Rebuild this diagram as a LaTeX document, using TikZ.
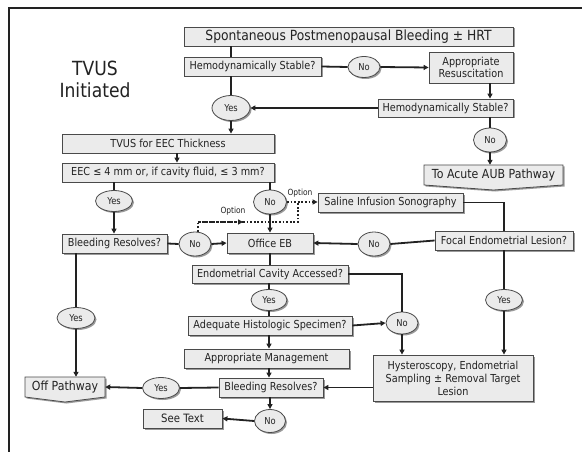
\documentclass[tikz,border=0pt]{standalone}
\usepackage{fontspec}
\setmainfont{DejaVu Sans}[FakeStretch=0.88]
\usetikzlibrary{shapes.geometric,arrows.meta,shadows}
\definecolor{boxfill}{HTML}{EBEBEB}
\definecolor{boxline}{HTML}{4A4A4A}
\definecolor{linecol}{HTML}{222222}
\definecolor{shadowcol}{HTML}{9A9A9A}
\begin{document}
\begin{tikzpicture}[x=1pt,y=-1pt,
  shad/.style={drop shadow={shadow xshift=1.5pt,shadow yshift=-1.5pt,fill=shadowcol,opacity=1}},
  box/.style={draw=boxline,fill=boxfill,line width=0.8pt,rectangle,inner sep=0pt,align=center,
    text=linecol,font=\fontsize{11}{13}\selectfont,shad},
  oval/.style={draw=boxline,fill=boxfill,line width=0.8pt,ellipse,inner sep=0pt,
    text=linecol,font=\fontsize{9.5}{10}\selectfont,shad},
  pagebox/.style={draw=boxline,fill=boxfill,line width=0.8pt,shad},
  conn/.style={draw=linecol,line width=1.8pt},
  arr/.style={conn,-{Triangle[length=5pt,width=5pt]}},
  dots/.style={draw=linecol,line width=1.8pt,dash pattern=on 1.8pt off 1.8pt},
  darr/.style={dots,-{Triangle[length=5pt,width=5pt]}},
  lbl/.style={text=linecol,font=\fontsize{8.5}{10}\selectfont,inner sep=0pt}
]
\useasboundingbox (0,0) rectangle (582,452);
\fill[white] (0,0) rectangle (582,452);
\draw[linecol,line width=1.2pt] (9,452) -- (9,8) -- (582,8);

\node[text=linecol,font=\fontsize{19.5}{22}\selectfont,align=center] (title) at (95,79) {TVUS\\Initiated};

% boxes
\node[box,minimum width=329pt,minimum height=19pt,font=\fontsize{14}{15}\selectfont] (top) at (348.5,36.5) {Spontaneous Postmenopausal Bleeding ± HRT};
\node[box,minimum width=137pt,minimum height=19pt] (hs1) at (252.5,66.5) {Hemodynamically Stable?};
\node[oval,minimum width=32pt,minimum height=21pt] (no1) at (364,67) {No};
\node[box,minimum width=84pt,minimum height=31pt,font=\fontsize{11}{12}\selectfont] (resus) at (471,67.5) {Appropriate\\Resuscitation};
\node[box,minimum width=135pt,minimum height=18pt] (hs2) at (445.5,108) {Hemodynamically Stable?};
\node[oval,minimum width=33pt,minimum height=24pt] (no2) at (490,140) {No};
\path[pagebox] (424,165) -- (563,165) -- (563,185) -- (493.5,190) -- (424,185) -- cycle;
\node[text=linecol,font=\fontsize{12.5}{14}\selectfont,minimum width=139pt,minimum height=20pt,inner sep=0pt] (aub) at (493.5,175) {To Acute AUB Pathway};
\node[oval,minimum width=38pt,minimum height=25pt] (yes1) at (231,108) {Yes};
\node[box,minimum width=212pt,minimum height=19pt] (tvus) at (168,143.5) {TVUS for EEC Thickness};
\node[box,minimum width=212pt,minimum height=19pt] (eec) at (168,172.5) {EEC ≤ 4 mm or, if cavity fluid, ≤ 3 mm?};
\node[oval,minimum width=37pt,minimum height=21pt] (yes2) at (114,201) {Yes};
\node[oval,minimum width=33pt,minimum height=24pt] (no3) at (270,202) {No};
\node[box,minimum width=105pt,minimum height=19pt] (br1) at (114.5,243.5) {Bleeding Resolves?};
\node[oval,minimum width=32pt,minimum height=24pt] (no4) at (195,244) {No};
\node[box,minimum width=86pt,minimum height=20pt] (oeb) at (270,243) {Office EB};
\node[box,minimum width=145pt,minimum height=19pt] (sis) at (390.5,202.5) {Saline Infusion Sonography};
\node[box,minimum width=138pt,minimum height=19pt] (focal) at (504,240.5) {Focal Endometrial Lesion?};
\node[oval,minimum width=32pt,minimum height=24pt] (no5) at (374,244) {No};
\node[box,minimum width=156pt,minimum height=18pt] (eca) at (270,274) {Endometrial Cavity Accessed?};
\node[oval,minimum width=32pt,minimum height=22pt] (no6) at (402,323) {No};
\node[oval,minimum width=36pt,minimum height=21pt] (yes3) at (269,300) {Yes};
\node[box,minimum width=164pt,minimum height=19pt] (ahs) at (270,325.5) {Adequate Histologic Specimen?};
\node[box,minimum width=165pt,minimum height=19pt] (am) at (266.5,358.5) {Appropriate Management};
\node[box,minimum width=104pt,minimum height=19pt] (br2) at (271,387.5) {Bleeding Resolves?};
\node[box,minimum width=160pt,minimum height=46pt] (hyst) at (453,378) {Hysteroscopy, Endometrial\\Sampling ± Removal Target\\Lesion};
\node[oval,minimum width=37pt,minimum height=21pt] (yes4) at (504,300) {Yes};
\node[oval,minimum width=38pt,minimum height=21pt] (yes5) at (76,318) {Yes};
\path[pagebox] (25,377) -- (105,377) -- (105,397) -- (65,402) -- (25,397) -- cycle;
\node[text=linecol,font=\fontsize{12.5}{14}\selectfont,minimum width=80pt,minimum height=20pt,inner sep=0pt] (off) at (65,387) {Off Pathway};
\node[oval,minimum width=37pt,minimum height=21pt] (yes6) at (161,388) {Yes};
\node[box,minimum width=79pt,minimum height=19pt,font=\fontsize{11.5}{13}\selectfont] (see) at (182.5,418.5) {See Text};
\node[oval,minimum width=31pt,minimum height=23pt] (no7) at (270,421) {No};

\node[lbl] (opt1) at (300,193) {Option};
\node[lbl] (opt2) at (233,211) {Option};

% connectors
\draw[conn] (yes1 |- top.south) -- (yes1 |- hs1.north);
\draw[conn] (yes1 |- hs1.south) -- (yes1.north);
\draw[arr] (yes1.south) -- (yes1 |- tvus.north);
\draw[conn] (hs1.east) -- (no1.west);
\draw[arr] (no1.east) -- (resus.west);
\draw[arr] (no2 |- resus.south) -- (no2 |- hs2.north);
\draw[arr] (hs2.west) -- (yes1.east);
\draw[conn] (no2 |- hs2.south) -- (no2.north);
\draw[arr] (no2.south) -- (no2 |- aub.north);
\draw[arr] ([xshift=9pt]tvus.south) -- ([xshift=9pt]eec.north);
\draw[conn] (yes2 |- eec.south) -- (yes2.north);
\draw[arr] (yes2.south) -- (yes2 |- br1.north);
\draw[conn] (no3 |- eec.south) -- (no3.north);
\draw[arr] (no3.south) -- (oeb.north);
\draw[conn] (br1.east) -- (no4.west);
\draw[arr] (no4.east) -- (oeb.west);
\draw[darr] (no3.east) -- (no3.east -| sis.west);
\coordinate (dl) at (198,222);
\coordinate (dm) at (243,222);
\coordinate (dr) at (298,222);
\coordinate (dj) at (298,202);
\draw[dots] ([xshift=3pt]no4.north) -- (dl) -- (dm);
\draw[darr] (dl) -- (dm);
\draw[dots] (dm) -- (dr) -- (dj);
\draw[conn] (sis.east) -| (focal.north);
\draw[conn] (focal.west) -- (no5.east);
\draw[arr] (no5.west) -- (oeb.east);
\draw[conn] (oeb.south) -- (eca.north);
\draw[conn] (eca.east) -| (no6.north);
\draw[conn] (yes3 |- eca.south) -- (yes3.north);
\draw[conn] (yes3.south) -- (yes3 |- ahs.north);
\draw[arr] (ahs.east) -- (no6.west);
\draw[arr] (no6.south) -- (no6 |- hyst.north);
\draw[arr] (yes3 |- ahs.south) -- (yes3 |- am.north);
\draw[arr] (yes3 |- am.south) -- (yes3 |- br2.north);
\draw[arr] (hyst.west |- br2) -- (br2.east);
\draw[conn] (focal.south) -- (yes4.north);
\draw[arr] (yes4.south) -- (yes4 |- hyst.north);
\draw[conn] (yes5 |- br1.south) -- (yes5.north);
\draw[arr] (yes5.south) -- (yes5 |- off.north);
\draw[conn] (br2.west) -- (yes6.east);
\draw[arr] (yes6.west) -- (off.east);
\draw[arr] (no7 |- br2.south) -- (no7.north);
\draw[arr] (no7.west) -- (see.east);
\end{tikzpicture}
\end{document}
